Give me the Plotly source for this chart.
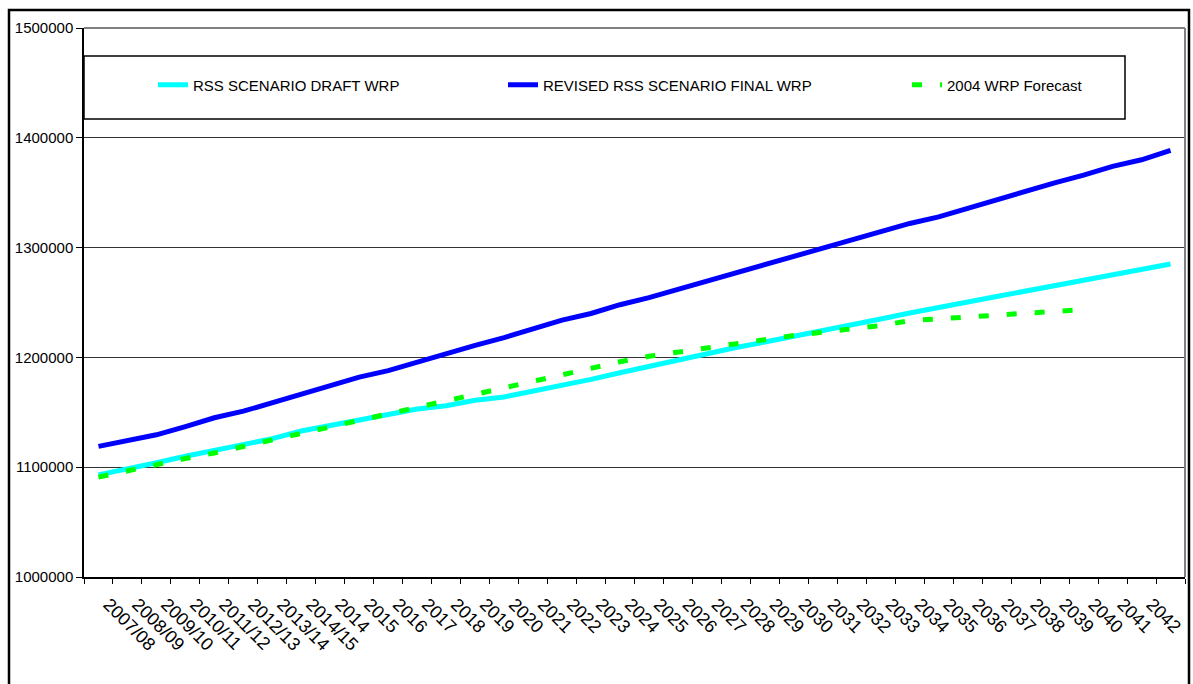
import plotly.graph_objects as go

# ---- data ----
# 38 periods on the x axis; the last period carries no label in the original chart
categories = ["2007/08", "2008/09", "2009/10", "2010/11", "2011/12", "2012/13", "2013/14", "2014/15",
              "2014", "2015", "2016", "2017", "2018", "2019", "2020", "2021", "2022", "2023", "2024",
              "2025", "2026", "2027", "2028", "2029", "2030", "2031", "2032", "2033", "2034", "2035",
              "2036", "2037", "2038", "2039", "2040", "2041", "2042", ""]

rss_draft = [1093000, 1098000, 1104000, 1110000, 1115000, 1121000, 1126000, 1133000, 1138000, 1143000,
             1148000, 1153000, 1156000, 1161000, 1164000, 1169000, 1175000, 1180000, 1186000, 1192000,
             1198000, 1204000, 1209000, 1214000, 1219000, 1224000, 1229000, 1235000, 1240500, 1246000,
             1250500, 1255500, 1260500, 1265400, 1271000, 1276000, 1280500, 1285000]

revised_final = [1119000, 1124000, 1129500, 1137000, 1145000, 1151000, 1159000, 1166000, 1174000, 1182000,
                 1188000, 1196000, 1203000, 1211000, 1218000, 1226000, 1234000, 1240000, 1248000, 1254500,
                 1262000, 1270000, 1277000, 1285000, 1292000, 1299000, 1307000, 1314000, 1322000, 1328000,
                 1336000, 1343000, 1351000, 1359000, 1366000, 1374000, 1380000, 1388500]

forecast_2004 = [1091000, 1097000, 1102000, 1108000, 1113000, 1119000, 1124000, 1130000, 1136000, 1142000,
                 1148000, 1155000, 1161000, 1167000, 1173000, 1179000, 1185000, 1190000, 1196000, 1201000,
                 1205000, 1209000, 1213000, 1216000, 1220000, 1223000, 1226000, 1229000, 1233500, 1235000,
                 1237000, 1238500, 1240000, 1242000, 1243500]

y_ticks = [1000000, 1100000, 1200000, 1300000, 1400000, 1500000]

FONT = "Liberation Sans, Arial, sans-serif"

n = len(categories)
x_idx = list(range(n))

fig = go.Figure()
fig.add_trace(go.Scatter(x=x_idx[:len(rss_draft)], y=rss_draft, mode="lines", name="RSS SCENARIO DRAFT WRP",
                         line=dict(color="#00FFFF", width=5), legend="legend", showlegend=True))
fig.add_trace(go.Scatter(x=x_idx[:len(revised_final)], y=revised_final, mode="lines",
                         name="REVISED RSS SCENARIO FINAL WRP",
                         line=dict(color="#0000FF", width=5), legend="legend2", showlegend=True))
fig.add_trace(go.Scatter(x=x_idx[:len(forecast_2004)], y=forecast_2004, mode="lines",
                         name="2004 WRP Forecast", showlegend=True,
                         line=dict(color="#00FF00", width=5, dash="10px,18px"), legend="legend3"))

L, R, T, B = 84, 8, 28, 107
W, H = 1193, 684
pw, ph = W - L - R, H - T - B


def px_x(p):
    return (p - L) / pw


def px_y(p):
    return (H - B - p) / ph


legend_common = dict(orientation="h", yanchor="middle", xanchor="left", bgcolor="rgba(0,0,0,0)",
                     borderwidth=0, font=dict(family=FONT, size=15, color="black"))

fig.update_layout(
    width=W, height=H,
    showlegend=True,
    margin=dict(l=L, r=R, t=T, b=B, pad=0, autoexpand=False),
    paper_bgcolor="white", plot_bgcolor="white",
    font=dict(family=FONT, size=15, color="black"),
    legend=dict(x=px_x(153), y=px_y(85), **legend_common),
    legend2=dict(x=px_x(503), y=px_y(85), **legend_common),
    legend3=dict(x=px_x(907), y=px_y(85), **legend_common),
    xaxis=dict(type="linear", range=[-0.5, n - 0.5],
               tickmode="array", tickvals=x_idx, ticktext=categories, ticks="",
               minor=dict(tickmode="array", tickvals=[i - 0.5 for i in range(n + 1)],
                          ticks="outside", ticklen=5, tickcolor="black", tickwidth=1, showgrid=False),
               showline=True, linecolor="black", linewidth=1.5, showgrid=False, automargin=False,
               tickangle=45, tickfont=dict(family=FONT, size=18, color="black"), zeroline=False,
               ticklabelstandoff=8, ticklabelshift=10, ticklabeloverflow="allow"),
    yaxis=dict(range=[1000000, 1500000], tickvals=y_ticks, tickformat="d", automargin=False,
               ticks="outside", ticklen=6, tickcolor="black", tickwidth=1,
               showline=True, linecolor="black", linewidth=1.5,
               showgrid=True, gridcolor="#333333", gridwidth=1, zeroline=False,
               tickfont=dict(family=FONT, size=15, color="black")),
    shapes=[
        # outer chart border
        dict(type="rect", xref="paper", yref="paper", x0=px_x(9), x1=px_x(1189), y0=px_y(700), y1=px_y(10),
             line=dict(color="black", width=2.5), fillcolor="rgba(0,0,0,0)", layer="above"),
        # plot area border (top / right)
        dict(type="line", xref="paper", yref="paper", x0=0, x1=1, y0=1, y1=1,
             line=dict(color="#808080", width=2), layer="above"),
        dict(type="line", xref="paper", yref="paper", x0=1, x1=1, y0=0, y1=1,
             line=dict(color="#808080", width=2), layer="above"),
        # legend box
        dict(type="rect", xref="paper", yref="paper", x0=px_x(84), x1=px_x(1125), y0=px_y(119), y1=px_y(56),
             line=dict(color="black", width=1.5), fillcolor="white", layer="above"),
    ],
)

fig.write_html("out.html")
